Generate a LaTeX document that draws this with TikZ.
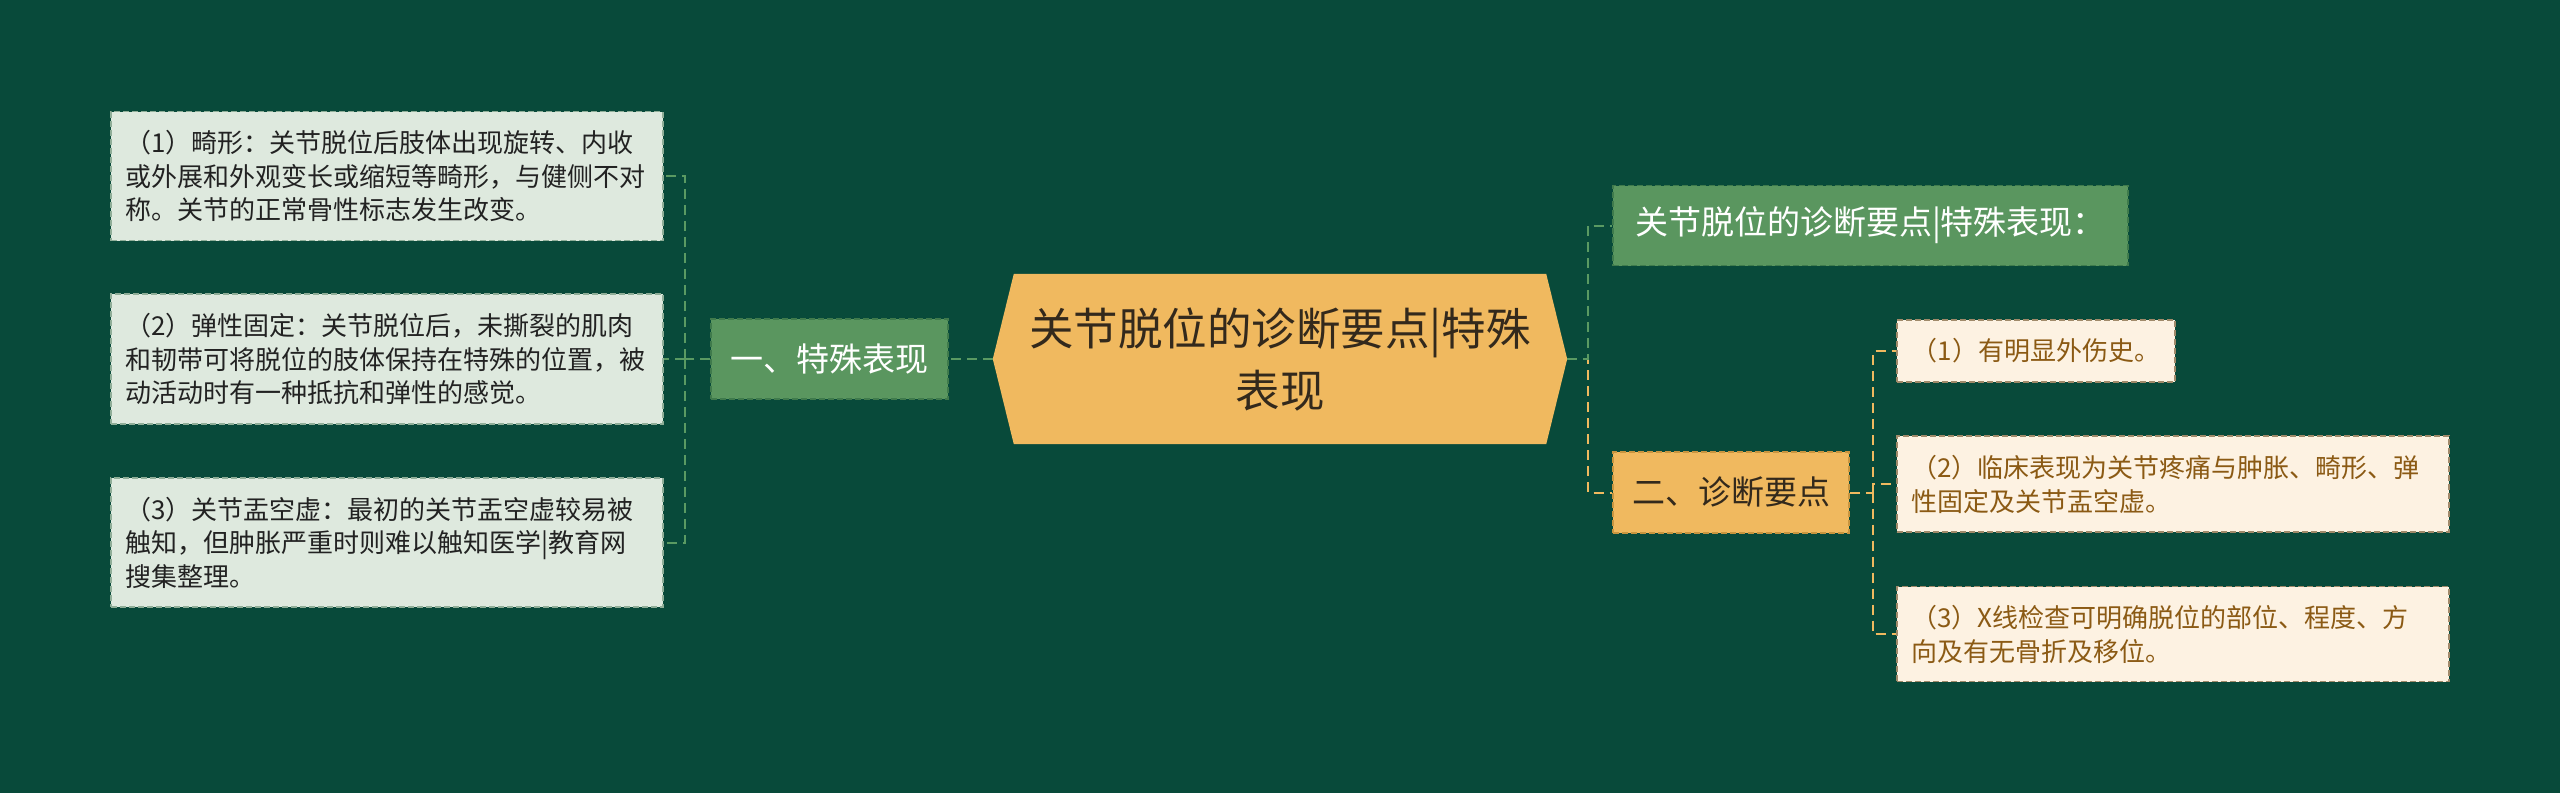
\documentclass[tikz,border=0pt]{standalone}
\usepackage{fontspec}
\setmainfont{Noto Sans CJK SC}
\usetikzlibrary{backgrounds}
\definecolor{bgc}{HTML}{084A3A}
\definecolor{hexc}{HTML}{F0B95F}
\definecolor{hextext}{HTML}{33291C}
\definecolor{gfill}{HTML}{5A965F}
\definecolor{gborder}{HTML}{3F7A4C}
\definecolor{lfill}{HTML}{DEE9DE}
\definecolor{lborder}{HTML}{8FAE98}
\definecolor{ltext}{HTML}{222222}
\definecolor{cfill}{HTML}{FDF2E2}
\definecolor{cborder}{HTML}{A08A6A}
\definecolor{ctext}{HTML}{8B5A14}
\definecolor{oborder}{HTML}{C8953F}
\definecolor{gline}{HTML}{5A9A62}
\definecolor{yline}{HTML}{F0B95F}
\tikzset{
  boxbase/.style={inner sep=0pt, line width=1.5pt, dash pattern=on 6pt off 3pt},
  hexnode/.style={inner sep=0pt, minimum width=574pt, minimum height=170pt, align=center, text=hextext, font=\fontsize{44.5}{62}\selectfont},
  greenbox/.style={boxbase, fill=gfill, draw=gborder, text=white, font=\fontsize{33}{40}\selectfont},
  orangebox/.style={boxbase, fill=hexc, draw=oborder, text=hextext, font=\fontsize{33}{40}\selectfont},
  lightbox/.style={boxbase, fill=lfill, draw=lborder, text=ltext, align=left, text width=524pt, minimum width=552pt, font=\fontsize{26}{33.5}\selectfont},
  creambox/.style={boxbase, fill=cfill, draw=cborder, text=ctext, align=left, font=\fontsize{26}{34}\selectfont},
  widecream/.style={creambox, text width=524pt, minimum width=552pt},
  lconn/.style={draw=gline, line width=2pt, dash pattern=on 10pt off 6pt},
  yconn/.style={draw=yline, line width=2pt, dash pattern=on 10pt off 6pt},
}
\begin{document}
\begin{tikzpicture}[x=1pt,y=-1pt]
\useasboundingbox (0,0) rectangle (2560,793);
% central topic
\node[hexnode] (c) at (1280,359) {关节脱位的诊断要点|特殊\\表现};
\begin{scope}[on background layer]
\fill[bgc] (0,0) rectangle (2560,793);
\fill[hexc] (c.west) -- ([xshift=21pt]c.north west) -- ([xshift=-21pt]c.north east) -- (c.east) -- ([xshift=-21pt]c.south east) -- ([xshift=21pt]c.south west) -- cycle;
\end{scope}
% left branch
\node[greenbox, minimum width=237pt, minimum height=80pt] (a) at (829.5,359) {一、特殊表现};
\node[lightbox, minimum height=129pt] (l1) at (387,176) {（1）畸形：关节脱位后肢体出现旋转、内收\\或外展和外观变长或缩短等畸形，与健侧不对\\称。关节的正常骨性标志发生改变。};
\node[lightbox, minimum height=130pt] (l2) at (387,359) {（2）弹性固定：关节脱位后，未撕裂的肌肉\\和韧带可将脱位的肢体保持在特殊的位置，被\\动活动时有一种抵抗和弹性的感觉。};
\node[lightbox, minimum height=129pt] (l3) at (387,542.5) {（3）关节盂空虚：最初的关节盂空虚较易被\\触知，但肿胀严重时则难以触知医学|教育网\\搜集整理。};
% right branch
\node[greenbox, minimum width=515pt, minimum height=80pt] (g) at (1870.5,225.5) {关节脱位的诊断要点|特殊表现：};
\node[orangebox, minimum width=236pt, minimum height=81pt] (b) at (1731,492.5) {二、诊断要点};
\node[creambox, minimum width=278pt, minimum height=62pt] (r1) at (2036,351) {（1）有明显外伤史。};
\node[widecream, minimum height=96pt] (r2) at (2173,484) {（2）临床表现为关节疼痛与肿胀、畸形、弹\\性固定及关节盂空虚。};
\node[widecream, minimum height=95pt] (r3) at (2173,634) {（3）X线检查可明确脱位的部位、程度、方\\向及有无骨折及移位。};
% junctions
\coordinate (lj) at (685,359);
\coordinate (rj) at (1588,359);
\coordinate (bj) at (1873,492.5);
% connectors
\draw[lconn] (c.west) -- (a.east);
\draw[lconn] (a.west) -- (lj);
\draw[lconn] (lj) |- (l1.east);
\draw[lconn] (lj) -- (l2.east);
\draw[lconn] (lj) |- (l3.east);
\draw[yconn] (c.east) -- (rj) |- (b.west);
\draw[lconn] (c.east) -- (rj) |- (g.west);
\draw[yconn] (b.east) -- (bj);
\draw[yconn] (bj) |- (r1.west);
\draw[yconn] (bj) |- (r2.west);
\draw[yconn] (bj) |- (r3.west);
\end{tikzpicture}
\end{document}
